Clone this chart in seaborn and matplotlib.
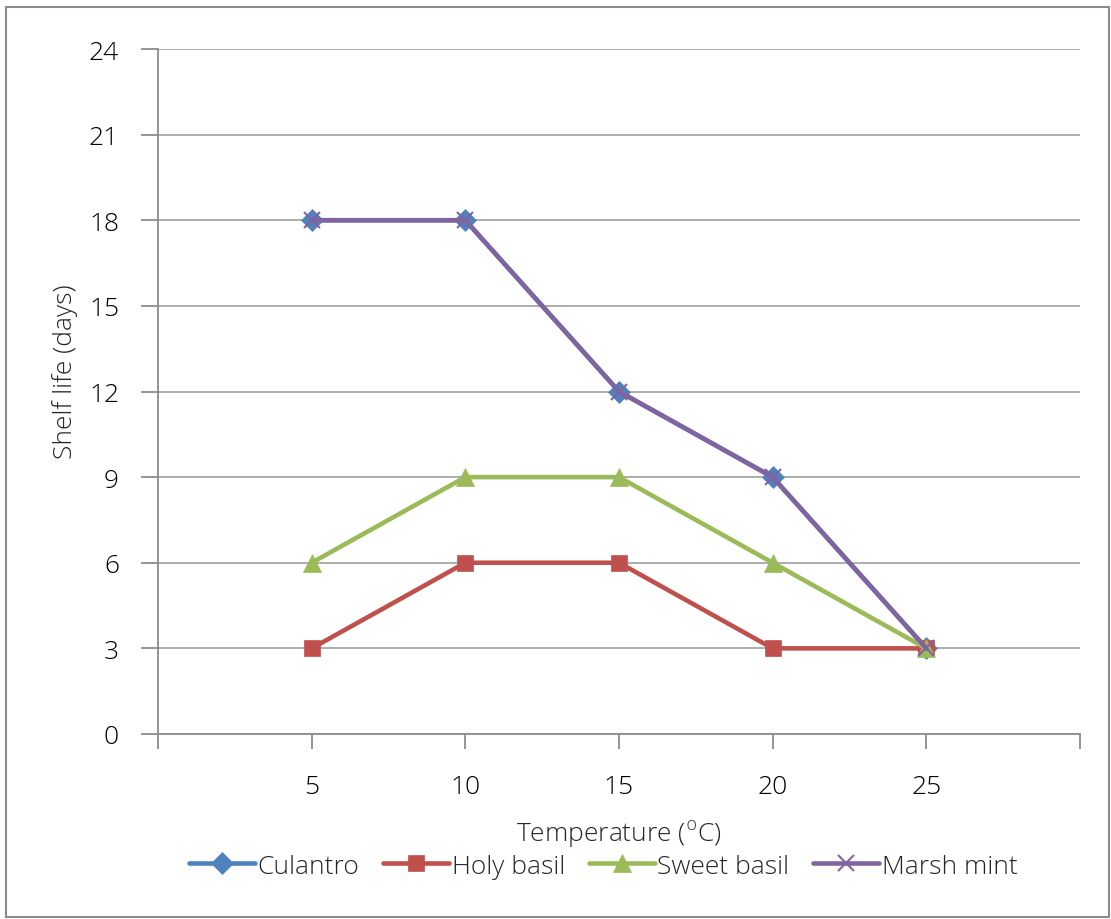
import matplotlib
matplotlib.use("Agg")
import matplotlib.pyplot as plt
from matplotlib.patches import Rectangle
import seaborn as sns
import pandas as pd

temperature = [5, 10, 15, 20, 25]
culantro = [18, 18, 12, 9, 3]
holy_basil = [3, 6, 6, 3, 3]
sweet_basil = [6, 9, 9, 6, 3]
marsh_mint = [18, 18, 12, 9, 3]
series_names = ["Culantro", "Holy basil", "Sweet basil", "Marsh mint"]
y_ticks = [0, 3, 6, 9, 12, 15, 18, 21, 24]
x_ticks = [0, 5, 10, 15, 20, 25, 30]
x_tick_labels = ["", "5", "10", "15", "20", "25", ""]

colors = ["#4F81BD", "#C0504D", "#9BBB59", "#8064A2"]
markers = ["D", "s", "^", "x"]
msizes = [11, 12, 13, 12]

sns.set_style("white")
plt.rcParams["font.family"] = ["Open Sans", "DejaVu Sans"]
plt.rcParams["font.weight"] = "light"
plt.rcParams["axes.labelweight"] = "light"

FS = 19

fig = plt.figure(figsize=(11.11, 9.2), dpi=100)
ax = fig.add_axes([158/1111, 1 - 735/920, (1080-158)/1111, (735-50)/920])

values = [culantro, holy_basil, sweet_basil, marsh_mint]
for name, vals, c, m, ms in zip(series_names, values, colors, markers, msizes):
    df = pd.DataFrame({"Temperature": temperature, "Shelf life": vals})
    sns.lineplot(data=df, x="Temperature", y="Shelf life", ax=ax, color=c,
                 linewidth=3.3, marker=m, markersize=ms,
                 markeredgecolor=c, markeredgewidth=1.5 if m == "x" else 0.5,
                 label=name, zorder=3)

ax.set_xlim(0, 30)
ax.set_ylim(0, 24)
ax.set_yticks(y_ticks)
ax.set_xticks(x_ticks)
ax.set_xticklabels(x_tick_labels)
ax.yaxis.grid(True, color="#A0A0A0", linewidth=1.2)
ax.xaxis.grid(False)
for s in ["top", "right"]:
    ax.spines[s].set_visible(False)
for s in ["left", "bottom"]:
    ax.spines[s].set_color("#8C8C8C")
    ax.spines[s].set_linewidth(1.3)
ax.tick_params(axis="both", which="both", direction="out", length=11,
               width=1.3, color="#8C8C8C", labelsize=FS, labelcolor="#000000",
               bottom=True, left=True)
ax.tick_params(axis="x", pad=18)
ax.tick_params(axis="y", pad=16, length=12)
ax.set_xlabel("Temperature ($^{\\mathrm{o}}$C)", fontsize=FS, labelpad=13,
              fontweight="light")
ax.set_ylabel("Shelf life (days)", fontsize=FS, labelpad=8, fontweight="light")
ax.yaxis.label.set_y(0.53)

handles, labels = ax.get_legend_handles_labels()
ax.legend(handles, labels, loc="center", bbox_to_anchor=(0.483, -0.193),
          ncol=4, frameon=False, fontsize=19, handlelength=2.5,
          handletextpad=0.1, columnspacing=0.9)

fig.patches.append(Rectangle((6/1111, 2/920), (1109-6)/1111, (918-8)/920,
                             transform=fig.transFigure, fill=False,
                             edgecolor="#8C8C8C", linewidth=1.5))

fig.savefig("out.png", dpi=100)
